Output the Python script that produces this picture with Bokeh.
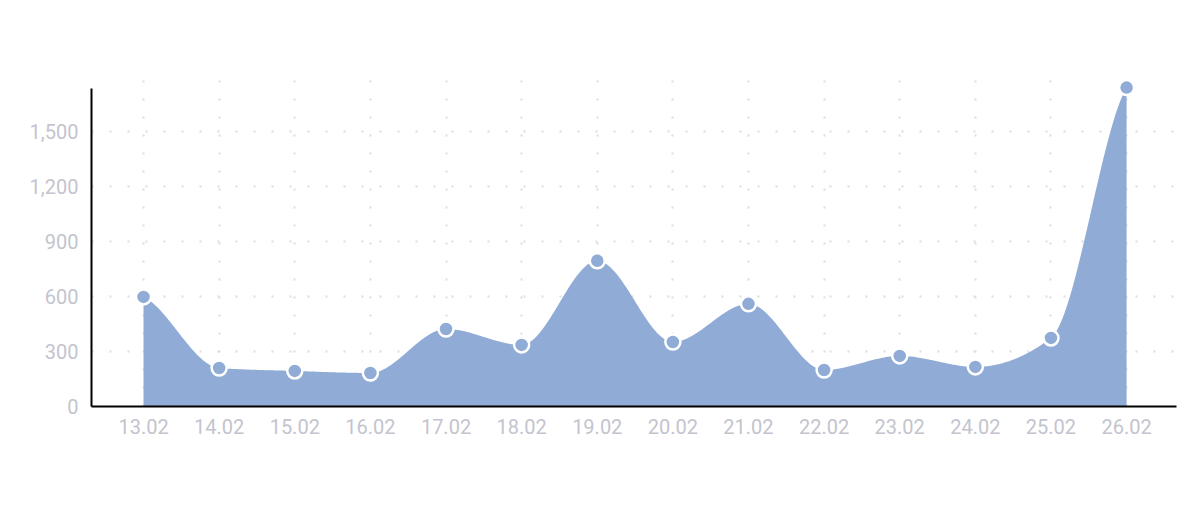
import numpy as np
from bokeh.plotting import figure
from bokeh.models import Range1d, FixedTicker, NumeralTickFormatter
from bokeh.embed import file_html
from bokeh.resources import INLINE

# ---- data ----
dates = ["13.02", "14.02", "15.02", "16.02", "17.02", "18.02", "19.02",
         "20.02", "21.02", "22.02", "23.02", "24.02", "25.02", "26.02"]
values = [598, 210, 194, 183, 423, 336, 795, 352, 560, 199, 276, 216, 374, 1740]
y_ticks = [0, 300, 600, 900, 1200, 1500]

FILL = "#8fabd6"
LABEL = "#c3c4ce"
GRID = "#dcdce2"
FONT = "Roboto"

idx = np.arange(len(dates), dtype=float)
vals = np.array(values, dtype=float)

# smooth (monotone-style) spline rendering of the series
n = len(vals)
s = np.diff(vals)
m = np.zeros(n)
for i in range(1, n - 1):
    a, b = s[i - 1], s[i]
    if a * b <= 0:
        m[i] = 0.0
    else:
        m[i] = np.sign(a) * 2 * min(abs(a), abs(b), 0.25 * abs(a + b))
m[0] = s[0] / 2
m[-1] = s[-1] / 2
xs, ys = [], []
t = np.linspace(0, 1, 40)
h00 = 2 * t**3 - 3 * t**2 + 1
h10 = t**3 - 2 * t**2 + t
h01 = -2 * t**3 + 3 * t**2
h11 = t**3 - t**2
for i in range(n - 1):
    seg = h00 * vals[i] + h10 * m[i] + h01 * vals[i + 1] + h11 * m[i + 1]
    xs.extend((idx[i] + t).tolist())
    ys.extend(seg.tolist())

p = figure(width=1184, height=494, output_backend="svg", toolbar_location=None,
           x_range=Range1d(-0.688, 13.66), y_range=Range1d(0, 1784),
           min_border_left=91, min_border_right=8, min_border_top=79,
           min_border_bottom=88)
p.outline_line_color = None
p.background_fill_color = "white"
p.border_fill_color = "white"

p.varea(x=xs, y1=0, y2=ys, fill_color=FILL, fill_alpha=1.0)
p.scatter(x=idx, y=vals, size=15, fill_color=FILL, line_color="white",
          line_width=2.5)

# axes
xa = p.xaxis[0]
xa.ticker = FixedTicker(ticks=idx.tolist())
xa.major_label_overrides = {int(i): d for i, d in enumerate(dates)}
xa.axis_line_color = "black"
xa.axis_line_width = 2
xa.major_tick_line_color = None
xa.minor_tick_line_color = None
xa.major_tick_out = 0
xa.major_tick_in = 0
xa.major_label_standoff = 12
xa.major_label_text_font = FONT
xa.major_label_text_font_size = "20px"
xa.major_label_text_color = LABEL

ya = p.yaxis[0]
ya.ticker = FixedTicker(ticks=y_ticks)
ya.formatter = NumeralTickFormatter(format="0,0")
ya.bounds = (-41, 1734)
ya.axis_line_color = "black"
ya.axis_line_width = 2
ya.major_tick_line_color = None
ya.minor_tick_line_color = None
ya.major_tick_out = 0
ya.major_tick_in = 0
ya.major_label_standoff = 13
ya.major_label_text_font = FONT
ya.major_label_text_font_size = "20px"
ya.major_label_text_color = LABEL

# dotted grid
for g in (p.xgrid[0], p.ygrid[0]):
    g.grid_line_color = GRID
    g.grid_line_width = 2
    g.grid_line_dash = "2 16"
p.xgrid[0].ticker = FixedTicker(ticks=idx.tolist())
p.ygrid[0].ticker = FixedTicker(ticks=y_ticks)

open("out.html", "w").write(file_html(p, INLINE))
